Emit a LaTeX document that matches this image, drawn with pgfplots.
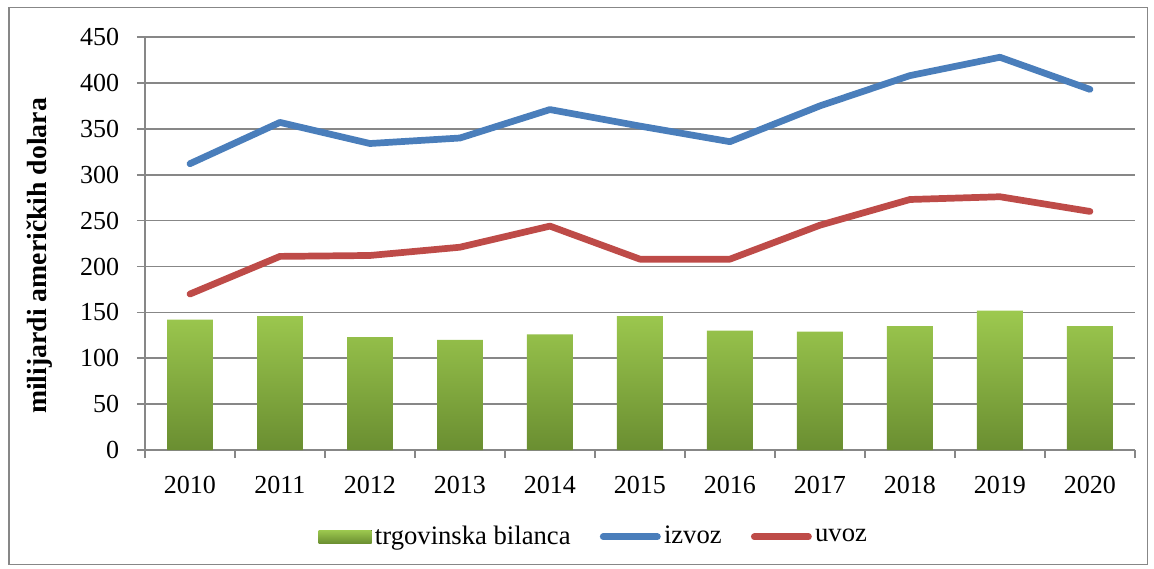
\documentclass[border=0pt,12pt]{standalone}
\usepackage{fontspec}
\setmainfont{Liberation Serif}
\usepackage{pgfplots}
\pgfplotsset{compat=1.18}

\definecolor{izvoz}{HTML}{4A7EBB}
\definecolor{uvoz}{HTML}{BE4B48}
\definecolor{bartop}{HTML}{9DC94F}
\definecolor{barbot}{HTML}{6A8E31}
\definecolor{axgray}{HTML}{878787}

\begin{document}
\begin{tikzpicture}
% 1 px of the reference = 0.4615pt
\useasboundingbox (0,0) rectangle (532.6pt,-262.6pt);
\draw[axgray, line width=0.6pt] (4.2pt,-3.3pt) rectangle (529.6pt,-260.4pt);
\begin{axis}[
    at={(66.9pt,-207.7pt)}, anchor=south west,
    scale only axis,
    width=456.9pt, height=190.6pt,
    xmin=-0.5, xmax=10.5,
    ymin=0, ymax=450,
    xtick={0,...,10},
    xticklabels={2010,2011,2012,2013,2014,2015,2016,2017,2018,2019,2020},
    minor xtick={-0.5,0.5,...,10.5},
    ytick={0,50,...,450},
    tick align=outside,
    major tick length=3.7pt,
    minor tick length=3.7pt,
    x tick style={draw=none},
    minor x tick style={draw=axgray, line width=0.8pt},
    y tick style={axgray, line width=0.8pt},
    ymajorgrids,
    grid style={axgray, line width=0.8pt},
    axis x line*=bottom,
    axis y line*=left,
    axis line style={axgray, line width=0.8pt},
    separate axis lines,
    x axis line style={-}, y axis line style={-},
    ticklabel style={font=\fontsize{12}{14}\selectfont},
    xticklabel style={yshift=-4pt},
    yticklabel style={xshift=-4pt},
    /pgf/number format/assume math mode=true,
    ylabel={\bfseries milijardi američkih dolara},
    every axis y label/.style={at={(ticklabel cs:0.47)}, rotate=90, anchor=south,
        font=\fontsize{12.8}{15}\selectfont},
    ylabel shift=4.5pt,
    legend columns=3,
    legend style={draw=none, fill=none, at={(0.454,-0.21)}, anchor=center,
        font=\fontsize{12.3}{14}\selectfont,
        nodes={inner xsep=1.5pt},
        /tikz/every even column/.append style={column sep=12pt}},
    legend image code/.code={\draw[#1] (0pt,0pt) -- (25pt,0pt);},
]
\addplot[ybar, bar width=0.51, draw=none, top color=bartop, bottom color=barbot,
    legend image code/.code={\fill[top color=bartop, bottom color=barbot] (0pt,-3.1pt) rectangle (24.5pt,3.1pt);}]
coordinates {(0,142) (1,146) (2,123) (3,120) (4,126) (5,146) (6,130) (7,129) (8,135) (9,152) (10,135)};
\addlegendentry{trgovinska bilanca}

\addplot[izvoz, line width=3.1pt, line cap=round, line join=round, mark=none]
coordinates {(0,312) (1,357) (2,334) (3,340) (4,371) (5,353) (6,336) (7,375) (8,408) (9,428) (10,393)};
\addlegendentry{izvoz}

\addplot[uvoz, line width=3.1pt, line cap=round, line join=round, mark=none]
coordinates {(0,170) (1,211) (2,212) (3,221) (4,244) (5,208) (6,208) (7,245) (8,273) (9,276) (10,260)};
\addlegendentry{uvoz}
\end{axis}
\end{tikzpicture}
\end{document}
